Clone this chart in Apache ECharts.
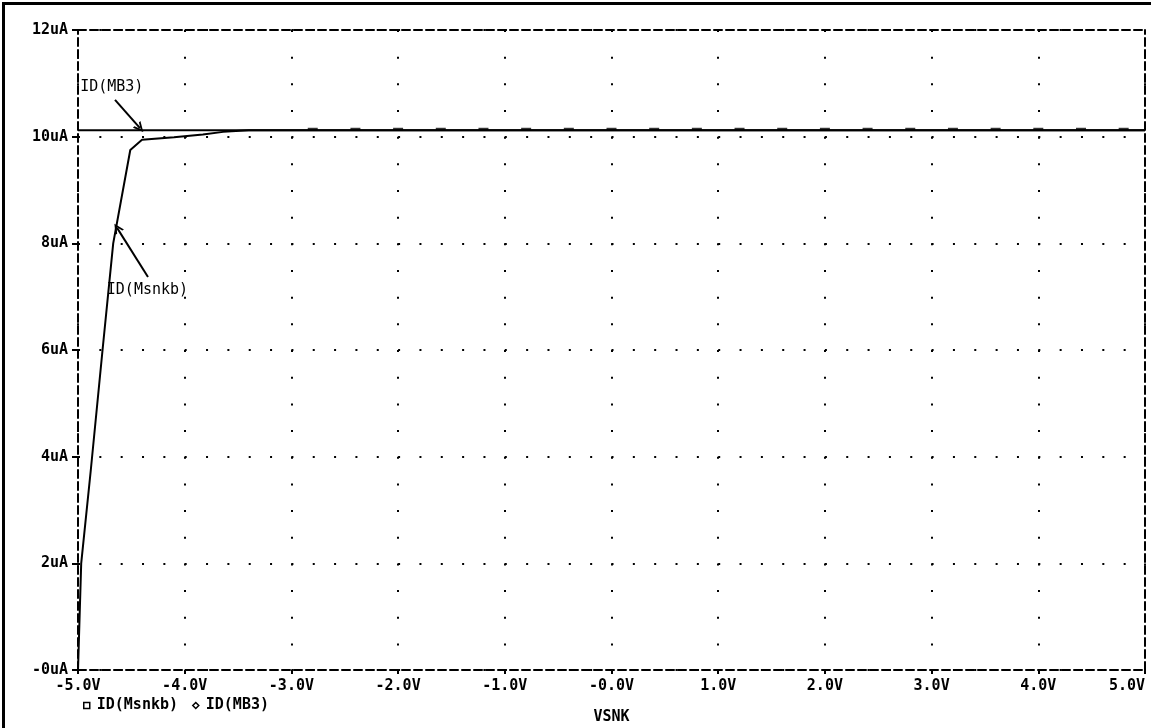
<!DOCTYPE html>
<html>
<head>
<meta charset="utf-8">
<script src="https://cdn.jsdelivr.net/npm/echarts@6/dist/echarts.min.js"></script>
<style>
  html, body { margin: 0; padding: 0; background: #fff; }
  #chart { width: 1151px; height: 728px; }
  .frame {
    position: absolute; left: 2px; top: 2px; width: 1149px; height: 726px;
    border-top: 3px solid #000; border-left: 3px solid #000; pointer-events: none;
  }
</style>
</head>
<body>
<div id="chart"></div>
<div class="frame"></div>
<script>
// sweep of VSNK (V) and drain currents (uA)
const msnkbV = [-5.0, -4.97, -4.88, -4.77, -4.67, -4.51, -4.40, -4.10, -3.83, -3.64, -3.40, 5.0];
const msnkbI = [0, 2.0, 3.75, 6.0, 8.0, 9.75, 9.94, 9.99, 10.04, 10.09, 10.12, 10.12];
const mb3V = [-5.0, 5.0];
const mb3I = [10.12, 10.12];
// marker positions along ID(MB3)
const mb3MarkV = [-2.8, -2.4, -2.0, -1.6, -1.2, -0.8, -0.4, 0.0, 0.4, 0.8, 1.2, 1.6, 2.0, 2.4, 2.8, 3.2, 3.6, 4.0, 4.4, 4.8];

const xTicks = [-5, -4, -3, -2, -1, 0, 1, 2, 3, 4, 5];
const xTickLabels = ['-5.0V', '-4.0V', '-3.0V', '-2.0V', '-1.0V', '-0.0V', '1.0V', '2.0V', '3.0V', '4.0V', '5.0V'];
const yTicks = [0, 2, 4, 6, 8, 10, 12];
const yTickLabels = ['-0uA', '2uA', '4uA', '6uA', '8uA', '10uA', '12uA'];

// labels and their arrows, in data coordinates
const labelNames = ['ID(MB3)', 'ID(Msnkb)'];
const labelPos = [[-4.98, 10.93], [-4.73, 7.13]];
const arrowFrom = [[-4.653, 10.69], [-4.344, 7.37]];
const arrowTo = [[-4.419, 10.16], [-4.634, 8.29]];

const mono = 'DejaVu Sans Mono';
const dashed = { color: '#000', width: 2, type: [8, 4] };

const chart = echarts.init(document.getElementById('chart'));

const option = {
    animation: false,
    backgroundColor: '#fff',
    grid: {
        left: 78, top: 30, right: 6, bottom: 58,
        containLabel: false,
        outerBoundsMode: 'none'
    },
    legend: {
        left: 78,
        top: 693,
        itemWidth: 6,
        itemHeight: 6,
        itemGap: 14,
        selectedMode: false,
        data: [
            { name: 'ID(Msnkb)', icon: 'rect' },
            { name: 'ID(MB3)', icon: 'diamond' }
        ],
        itemStyle: { color: '#fff', borderColor: '#000', borderWidth: 1.5 },
        lineStyle: { width: 0 },
        textStyle: { fontFamily: mono, fontWeight: 'bold', fontSize: 15, color: '#000', padding: [0, 0, 0, 2] }
    },
    xAxis: [
        {
            type: 'value',
            min: -5, max: 5, interval: 1,
            name: 'VSNK',
            nameLocation: 'middle',
            nameGap: 40,
            nameTextStyle: { fontFamily: mono, fontWeight: 'bold', fontSize: 15, color: '#000' },
            axisLine: { show: true, onZero: false, lineStyle: dashed },
            axisTick: { show: true, inside: false, length: 4, lineStyle: { color: '#000', width: 2 } },
            axisLabel: {
                margin: 9,
                alignMaxLabel: 'right',
                fontFamily: mono, fontWeight: 'bold', fontSize: 15, color: '#000',
                formatter: v => xTickLabels[xTicks.indexOf(Math.round(v))]
            },
            splitLine: { show: true, lineStyle: { color: '#000', width: 2, type: [2, 24.67] } }
        },
        {
            type: 'value', position: 'top',
            min: -5, max: 5, interval: 1,
            axisLine: { show: true, onZero: false, lineStyle: dashed },
            axisTick: { show: false }, axisLabel: { show: false }, splitLine: { show: false }
        }
    ],
    yAxis: [
        {
            type: 'value',
            min: 0, max: 12, interval: 2,
            axisLine: { show: true, onZero: false, lineStyle: dashed },
            axisTick: { show: true, inside: false, length: 6, lineStyle: { color: '#000', width: 2 } },
            axisLabel: {
                margin: 10,
                fontFamily: mono, fontWeight: 'bold', fontSize: 15, color: '#000',
                formatter: v => yTickLabels[yTicks.indexOf(Math.round(v))]
            },
            splitLine: { show: true, lineStyle: { color: '#000', width: 2, type: [2, 19.34] } }
        },
        {
            type: 'value', position: 'right',
            min: 0, max: 12, interval: 2,
            axisLine: { show: true, onZero: false, lineStyle: dashed },
            axisTick: { show: false }, axisLabel: { show: false }, splitLine: { show: false }
        }
    ],
    series: [
        {
            name: 'ID(Msnkb)',
            type: 'line',
            data: msnkbV.map((v, i) => [v, msnkbI[i]]),
            showSymbol: false,
            color: '#000',
            lineStyle: { color: '#000', width: 2 },
            markLine: {
                silent: true,
                symbol: ['none', 'path://M0,10 L5,0 L10,10 L8,10 L5,4 L2,10 Z'],
                symbolSize: 10,
                label: { show: false },
                lineStyle: { color: '#000', width: 2, type: 'solid' },
                data: arrowFrom.map((p, i) => [{ coord: p }, { coord: arrowTo[i] }])
            }
        },
        {
            name: 'ID(MB3)',
            type: 'line',
            data: mb3V.map((v, i) => [v, mb3I[i]]),
            showSymbol: false,
            color: '#000',
            lineStyle: { color: '#000', width: 2 }
        },
        {
            name: 'MB3 marks',
            type: 'scatter',
            data: mb3MarkV.map(v => [v, mb3I[0]]),
            symbol: 'rect',
            symbolSize: [10, 3],
            symbolOffset: [0, -1],
            itemStyle: { color: '#000' },
            silent: true
        }
    ]
};

chart.setOption(option);

// curve labels placed through the grid's coordinate system
chart.setOption({
    graphic: labelNames.map((name, i) => {
        const p = chart.convertToPixel({ gridIndex: 0 }, labelPos[i]);
        return {
            type: 'text',
            x: p[0], y: p[1],
            style: {
                text: name,
                fill: '#000',
                font: '15px "DejaVu Sans Mono"',
                textVerticalAlign: 'middle',
                verticalAlign: 'middle'
            }
        };
    })
});
</script>
</body>
</html>
